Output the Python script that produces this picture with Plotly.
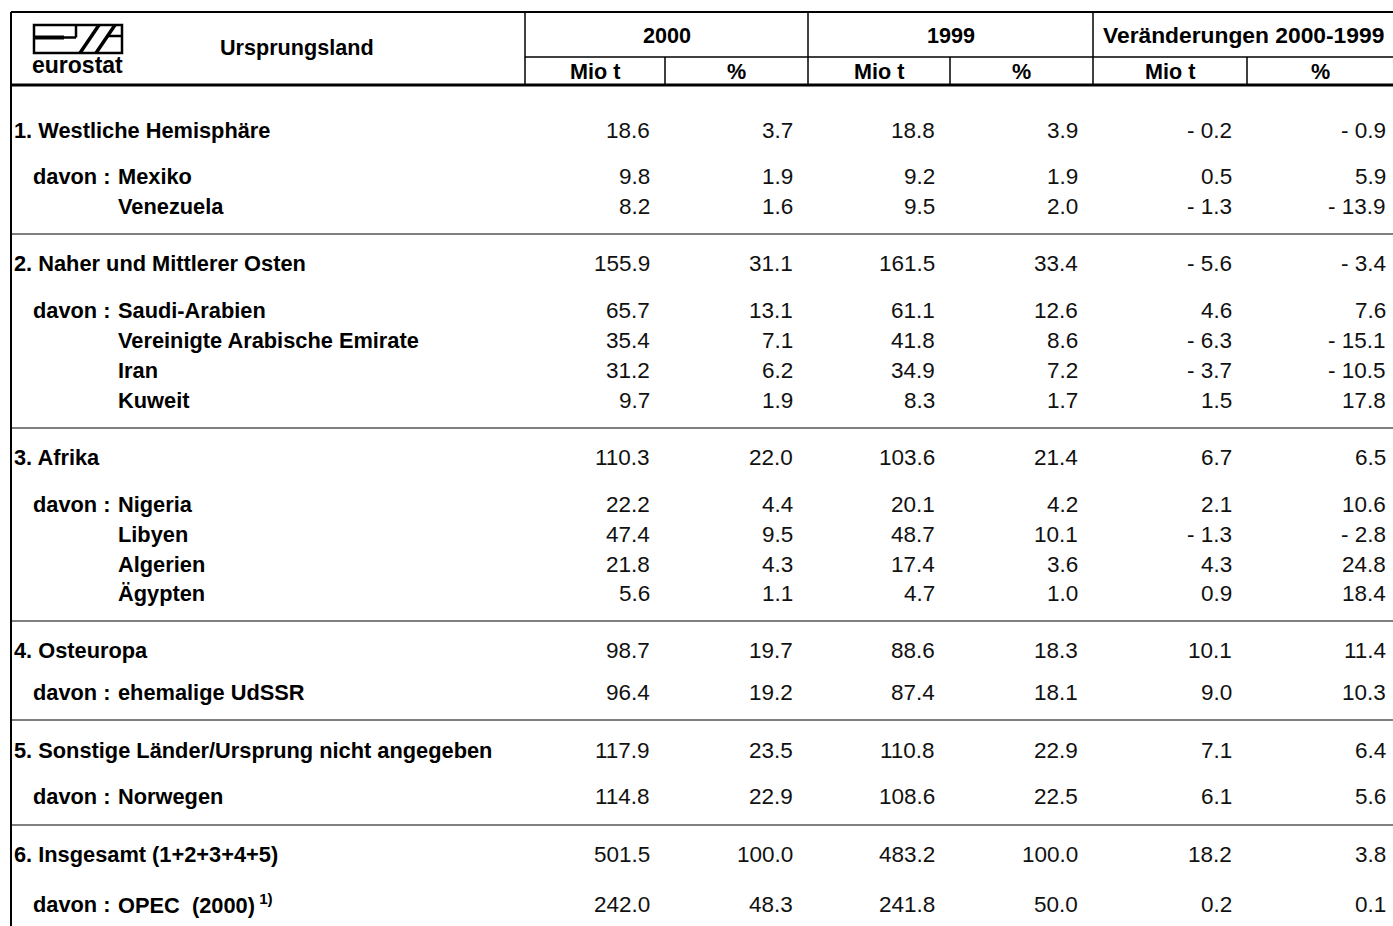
import plotly.graph_objects as go

# ---------------- data ----------------
row_labels = [
    "1. Westliche Hemisphäre", "Mexiko", "Venezuela",
    "2. Naher und Mittlerer Osten", "Saudi-Arabien", "Vereinigte Arabische Emirate", "Iran", "Kuweit",
    "3. Afrika", "Nigeria", "Libyen", "Algerien", "Ägypten",
    "4. Osteuropa", "ehemalige UdSSR",
    "5. Sonstige Länder/Ursprung nicht angegeben", "Norwegen",
    "6. Insgesamt (1+2+3+4+5)", "OPEC  (2000)<sup> 1)</sup>",
]
row_kind = ["s", "d", "c", "s", "d", "c", "c", "c", "s", "d", "c", "c", "c",
            "s", "d", "s", "d", "s", "d"]

mio_2000 = [18.6, 9.8, 8.2, 155.9, 65.7, 35.4, 31.2, 9.7, 110.3, 22.2, 47.4, 21.8, 5.6,
            98.7, 96.4, 117.9, 114.8, 501.5, 242.0]
pct_2000 = [3.7, 1.9, 1.6, 31.1, 13.1, 7.1, 6.2, 1.9, 22.0, 4.4, 9.5, 4.3, 1.1,
            19.7, 19.2, 23.5, 22.9, 100.0, 48.3]
mio_1999 = [18.8, 9.2, 9.5, 161.5, 61.1, 41.8, 34.9, 8.3, 103.6, 20.1, 48.7, 17.4, 4.7,
            88.6, 87.4, 110.8, 108.6, 483.2, 241.8]
pct_1999 = [3.9, 1.9, 2.0, 33.4, 12.6, 8.6, 7.2, 1.7, 21.4, 4.2, 10.1, 3.6, 1.0,
            18.3, 18.1, 22.9, 22.5, 100.0, 50.0]
diff_mio = [-0.2, 0.5, -1.3, -5.6, 4.6, -6.3, -3.7, 1.5, 6.7, 2.1, -1.3, 4.3, 0.9,
            10.1, 9.0, 7.1, 6.1, 18.2, 0.2]
diff_pct = [-0.9, 5.9, -13.9, -3.4, 7.6, -15.1, -10.5, 17.8, 6.5, 10.6, -2.8, 24.8, 18.4,
            11.4, 10.3, 6.4, 5.6, 3.8, 0.1]

year_headers = ["2000", "1999", "Veränderungen 2000-1999"]
sub_headers = ["Mio t", "%", "Mio t", "%", "Mio t", "%"]

# ---------------- layout (pixel geometry) ----------------
W, H = 1393, 926
row_y = [130, 176, 206, 263, 310, 340, 370, 400, 457, 504, 534, 564, 593,
         650, 692, 750, 796, 854, 904]
col_right = [652, 795, 937, 1080, 1234, 1388]
col_bounds = [525, 665, 808, 950, 1093, 1247, 1393]
sep_y = [234, 428, 621, 720, 825]

FONT = "Liberation Sans, Arial, sans-serif"
FS_LAB = 21.8
FS_NUM = 22.5
FS_HDR = 21.6


def fmt(v):
    s = f"{abs(v):.1f}"
    return "- " + s if v < 0 else s


fig = go.Figure()
fig.add_trace(go.Scatter(x=[0, W], y=[0, H], mode="markers",
                         marker=dict(opacity=0), hoverinfo="skip", showlegend=False))

shapes = []


def line(x0, y0, x1, y1, w=1, c="#000"):
    shapes.append(dict(type="line", x0=x0, y0=y0, x1=x1, y1=y1,
                       line=dict(color=c, width=w), xref="x", yref="y"))


# borders
line(11, 12, W, 12, 2)
line(11, 12, 11, H, 2)
line(11, 85, W, 85, 3)
line(525, 57, W, 57, 1.5)
for xb in [525, 808, 1093]:
    line(xb, 12, xb, 85, 1.5)
for xb in [665, 950, 1247]:
    line(xb, 57, xb, 85, 1.5)
for ys in sep_y:
    line(11, ys, W, ys, 1)

# eurostat logo
shapes.append(dict(type="rect", x0=34, y0=25, x1=122, y1=53,
                   line=dict(color="#000", width=2.5), xref="x", yref="y"))
line(34, 37.5, 64, 37.5, 4)
line(64, 37.5, 76, 37.5, 2.5)
line(76, 25, 76, 37.5, 2.5)
line(80, 53, 99, 25, 3.5)
line(96, 53, 115, 25, 3.5)
line(108, 36, 122, 36, 2.5)

ann = []


def txt(x, y, s, anchor="left", size=FS_LAB, bold=False, color="#000"):
    ann.append(dict(x=x, y=y, text=("<b>%s</b>" % s) if bold else s, showarrow=False,
                    xanchor=anchor, yanchor="middle", xref="x", yref="y",
                    font=dict(family=FONT, size=size, color=color)))


txt(77, 65, "eurostat", "center", 23, True)
txt(297, 47, "Ursprungsland", "center", FS_HDR, True)
hdr_centers = [(525 + 808) / 2, (808 + 1093) / 2, (1093 + W) / 2]
for cx, h in zip(hdr_centers, year_headers):
    txt(cx, 35, h, "center", FS_HDR if h != year_headers[2] else 22.8, True)
for i, h in enumerate(sub_headers):
    cx = (col_bounds[i] + col_bounds[i + 1]) / 2
    txt(cx, 71, h, "center", FS_HDR, True)

for i, lab in enumerate(row_labels):
    y = row_y[i]
    k = row_kind[i]
    if k == "s":
        txt(12, y, lab, "left", FS_LAB, True)
    else:
        if k == "d":
            txt(31, y, "davon :", "left", FS_LAB, True)
        txt(116, y, lab, "left", FS_LAB, True)
    for j, arr in enumerate([mio_2000, pct_2000, mio_1999, pct_1999, diff_mio, diff_pct]):
        txt(col_right[j], y, fmt(arr[i]), "right", FS_NUM, False, "#111")

fig.update_layout(
    width=W, height=H, margin=dict(l=0, r=0, t=0, b=0),
    paper_bgcolor="white", plot_bgcolor="white",
    xaxis=dict(range=[0, W], visible=False, fixedrange=True),
    yaxis=dict(range=[H, 0], visible=False, fixedrange=True),
    shapes=shapes, annotations=ann, showlegend=False,
)
fig.write_html("out.html", config={"displayModeBar": False},
               post_script="document.body.style.margin='0';document.body.style.overflow='hidden';")
